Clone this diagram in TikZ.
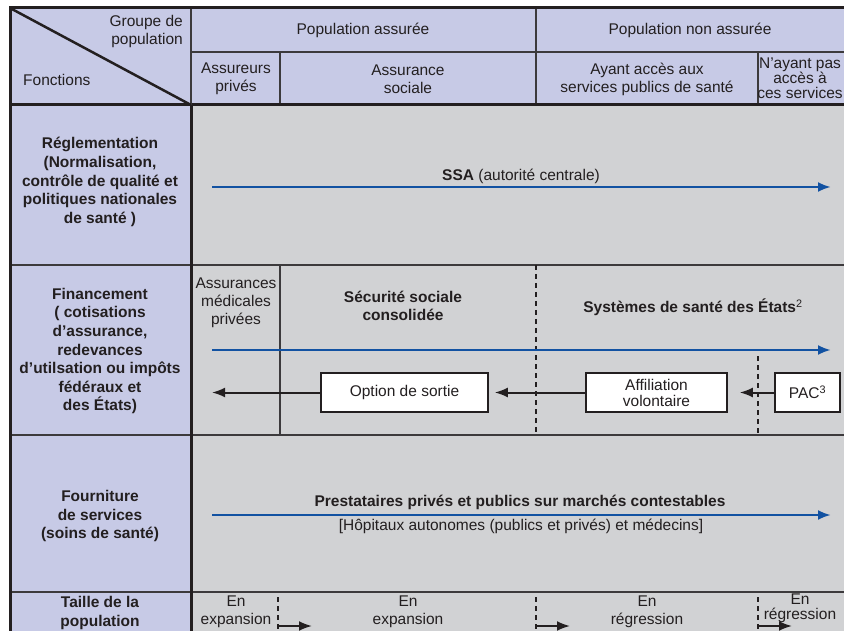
\documentclass[tikz,border=0pt]{standalone}
\usepackage{fontspec}
\setmainfont{Liberation Sans}
\usetikzlibrary{arrows.meta}
\definecolor{lavande}{RGB}{199,202,230}
\definecolor{grisfond}{RGB}{209,210,212}
\definecolor{encre}{RGB}{35,31,32}
\definecolor{traitgris}{RGB}{60,58,60}
\definecolor{bleuflux}{RGB}{18,82,162}

\begin{document}
\begin{tikzpicture}[x=1pt, y=-1pt,
    txt/.style={font=\fontsize{15.5}{18}\selectfont, text=encre, align=center, inner sep=0pt},
    txtserre/.style={txt, font=\fontsize{15.5}{15}\selectfont},
    gras/.style={txt, font=\fontsize{15.5}{18.6}\selectfont\bfseries},
    boite/.style={txt, draw=encre, line width=1.5pt, fill=white, minimum height=39pt},
    fleche/.style={draw=encre, line width=2pt, -{Latex[length=13pt,width=10pt]}},
    fluxbleu/.style={draw=bleuflux, line width=2.6pt, -{Latex[length=13pt,width=10pt]}},
    pointille/.style={draw=encre, line width=1.2pt, dash pattern=on 5pt off 4pt},
    cadre/.style={draw=encre, line width=3pt},
    separ/.style={draw=traitgris, line width=2.2pt},
    fin/.style={draw=traitgris, line width=1.6pt}]

\useasboundingbox (0,0) rectangle (844,631);
\clip (0,0) rectangle (844,631);

% fonds
\fill[grisfond] (191,105) rectangle (860,640);
\fill[lavande] (10,8) rectangle (191,640);
\fill[lavande] (191,8) rectangle (860,105);

% lignes du tableau
\draw[fin] (191,52) -- (860,52);
\draw[fin] (536,8) -- (536,105);
\draw[fin] (280,52) -- (280,105);
\draw[fin] (758,52) -- (758,105);
\draw[separ] (10,265) -- (860,265);
\draw[separ] (10,435) -- (860,435);
\draw[separ] (10,592) -- (860,592);
\draw[fin] (280,265) -- (280,435);
\draw[pointille] (536,265) -- (536,435);
\draw[pointille] (758,356) -- (758,435);
\draw[pointille] (278,597) -- (278,640);
\draw[pointille] (536,597) -- (536,640);
\draw[pointille] (758,597) -- (758,640);
\draw[cadre] (10,105) -- (860,105);
\draw[cadre] (191,105) -- (191,640);
\draw[separ] (191,8) -- (191,105);
\draw[line width=2.5pt, draw=encre] (10,8) -- (191,105);
\draw[cadre] (10,640) -- (10,8) -- (860,8);

% en-tete
\node[txt, align=right, anchor=east] (groupe) at (183,31) {Groupe de\\population};
\node[txt, anchor=west] (fonctions) at (23,80) {Fonctions};
\node[txt] (assuree) at (363,30) {Population assurée};
\node[txt] (nonassuree) at (690,30) {Population non assurée};
\node[txt] (prives) at (236,79) {Assureurs\\privés};
\node[txt] (sociale) at (408,79) {Assurance\\sociale};
\node[txt] (acces) at (647,79) {Ayant accès aux\\services publics de santé};
\node[txtserre] (sansacces) at (800,78) {N'ayant pas\\accès à\\ces services};

% fonctions
\node[gras] (reglementation) at (100,182) {Réglementation\\(Normalisation,\\contrôle de qualité et\\politiques nationales\\de santé )};
\node[gras] (financement) at (100,351) {Financement\\( cotisations\\d'assurance,\\redevances\\d'utilsation ou impôts\\fédéraux et\\des États)};
\node[gras] (fourniture) at (100,516) {Fourniture\\de services\\(soins de santé)};
\node[gras] (taille) at (100,613) {Taille de la\\population};

% reglementation
\coordinate (reglA) at (212,187);
\coordinate (reglB) at (831,187);
\draw[fluxbleu] (reglA) -- (reglB);
\node[txt] (ssa) at (521,176) {\textbf{SSA} (autorité centrale)};

% financement
\node[txt] (assmed) at (236,303) {Assurances\\médicales\\privées};
\node[gras, font=\fontsize{15.5}{18}\selectfont\bfseries] (secsoc) at (403,306) {Sécurité sociale\\consolidée};
\node[txt] (systemes) at (693,307) {\textbf{Systèmes de santé des États}\textsuperscript{2}};
\coordinate (finA) at (212,350);
\coordinate (finB) at (831,350);
\draw[fluxbleu] (finA) -- (finB);
\node[boite, minimum width=167pt] (sortie) at (404.5,392.5) {Option de sortie};
\node[boite, minimum width=141pt, font=\fontsize{15.5}{16}\selectfont] (affiliation) at (656.5,392.5) {Affiliation\\volontaire};
\node[boite, minimum width=65pt] (pac) at (807.5,392.5) {PAC\textsuperscript{3}};
\coordinate (sortiefin) at (212,392.5);
\draw[fleche] (sortie.west) -- (sortiefin);
\draw[fleche, shorten >=6pt] (affiliation.west) -- (sortie.east);
\draw[fleche, shorten >=12pt] (pac.west) -- (affiliation.east);

% fourniture
\coordinate (fournA) at (212,515);
\coordinate (fournB) at (831,515);
\draw[fluxbleu] (fournA) -- (fournB);
\node[txt, font=\fontsize{15.5}{18}\selectfont\bfseries] (prestataires) at (520,502) {Prestataires privés et publics sur marchés contestables};
\node[txt] (hopitaux) at (521,526) {[Hôpitaux autonomes (publics et privés) et médecins]};

% taille
\node[txt] (tprives) at (236,612) {En\\expansion};
\node[txt] (tsociale) at (408,612) {En\\expansion};
\node[txt] (tacces) at (647,612) {En\\régression};
\node[txtserre] (tsans) at (800,608) {En\\régression};
\coordinate (ta1) at (278,626);
\coordinate (tb1) at (312,626);
\coordinate (ta2) at (536,626);
\coordinate (tb2) at (570,626);
\coordinate (ta3) at (758,626);
\coordinate (tb3) at (792,626);
\foreach \i in {1,2,3}
  \draw[fleche] (ta\i) -- (tb\i);

\end{tikzpicture}
\end{document}
